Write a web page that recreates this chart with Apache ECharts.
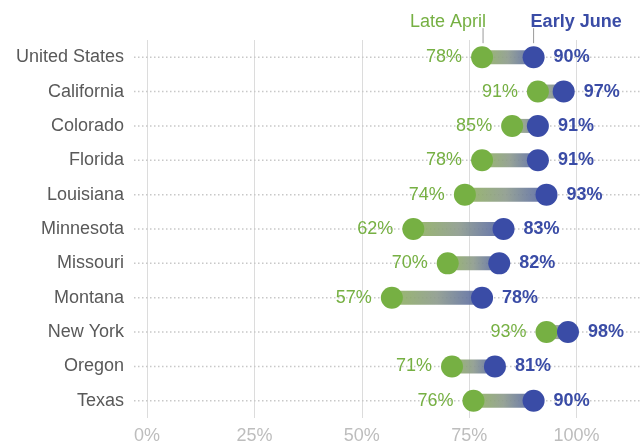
<!DOCTYPE html>
<html>
<head>
    <meta charset="utf-8">
    <title>Late April vs Early June</title>
    <script src="https://cdn.jsdelivr.net/npm/echarts@6/dist/echarts.min.js"></script>
    <style>
        html, body { margin: 0; padding: 0; background: #fff; }
        #chart1 { width: 644px; height: 446px; }
    </style>
</head>
<body>
<div id="chart1"></div>
<script type="text/javascript">
    // 数据
    var states = ['United States', 'California', 'Colorado', 'Florida', 'Louisiana', 'Minnesota',
        'Missouri', 'Montana', 'New York', 'Oregon', 'Texas'];
    var lateApril = [78, 91, 85, 78, 74, 62, 70, 57, 93, 71, 76];
    var earlyJune = [90, 97, 91, 91, 93, 83, 82, 78, 98, 81, 90];
    var xTicks = [0, 25, 50, 75, 100];

    var GREEN = '#76b043';
    var BLUE = '#3a4ca6';
    var FONT = '"Liberation Sans", Arial, sans-serif';
    var X_MAX = 115;

    var myChart1 = echarts.init(document.getElementById('chart1'));

    myChart1.setOption({
        animation: false,
        textStyle: { fontFamily: FONT },
        grid: { left: 147, right: 3, top: 40, bottom: 28 },
        xAxis: {
            type: 'value',
            min: 0,
            max: X_MAX,
            interval: 25,
            axisLine: { show: false },
            axisTick: { show: false },
            axisLabel: {
                fontSize: 18,
                color: '#bdbdbd',
                margin: 9,
                showMaxLabel: false,
                formatter: function (v) {
                    return xTicks.indexOf(v) >= 0 ? v + '%' : '';
                }
            },
            splitLine: {
                show: true,
                showMaxLine: false,
                lineStyle: { color: '#dcdcdc', width: 1 }
            }
        },
        yAxis: {
            type: 'category',
            data: states,
            inverse: true,
            axisLine: { show: false },
            axisTick: { show: false },
            axisLabel: { fontSize: 18, color: '#595959', margin: 23 }
        },
        series: [
            {
                // 每行的虚线
                type: 'custom',
                silent: true,
                data: states.map(function (s, i) { return [i]; }),
                renderItem: function (params, api) {
                    var i = api.value(0);
                    var p0 = api.coord([0, i]);
                    var p1 = api.coord([X_MAX, i]);
                    return {
                        type: 'line',
                        shape: { x1: p0[0] - 13, y1: p0[1], x2: p1[0], y2: p1[1] },
                        style: { stroke: '#c8c8c8', lineWidth: 1.5, lineDash: [1.5, 2.5] }
                    };
                }
            },
            {
                // 两点之间的渐变条 + 图例说明
                type: 'custom',
                silent: true,
                data: states.map(function (s, i) { return [i, lateApril[i], earlyJune[i]]; }),
                renderItem: function (params, api) {
                    var i = api.value(0);
                    var a = api.coord([api.value(1), i]);
                    var b = api.coord([api.value(2), i]);
                    var h = 14;
                    var children = [{
                        type: 'rect',
                        shape: { x: a[0], y: a[1] - h / 2, width: b[0] - a[0], height: h },
                        style: {
                            fill: new echarts.graphic.LinearGradient(0, 0, 1, 0, [
                                { offset: 0, color: '#8fb25c' },
                                { offset: 0.5, color: '#8c9a8c' },
                                { offset: 1, color: '#5263a6' }
                            ]),
                            opacity: 0.9
                        }
                    }];
                    if (i === 0) {
                        children.push({
                            type: 'line',
                            shape: { x1: a[0] + 1, y1: a[1] - 29, x2: a[0] + 1, y2: a[1] - 14 },
                            style: { stroke: '#9a9a9a', lineWidth: 1 }
                        }, {
                            type: 'line',
                            shape: { x1: b[0], y1: b[1] - 29, x2: b[0], y2: b[1] - 14 },
                            style: { stroke: '#9a9a9a', lineWidth: 1 }
                        }, {
                            type: 'text',
                            style: {
                                text: 'Late April', x: a[0] + 4, y: a[1] - 35,
                                align: 'right', verticalAlign: 'middle',
                                fill: GREEN, fontSize: 18, fontFamily: FONT
                            }
                        }, {
                            type: 'text',
                            style: {
                                text: 'Early June', x: b[0] - 3, y: b[1] - 35,
                                align: 'left', verticalAlign: 'middle',
                                fill: BLUE, fontSize: 18, fontWeight: 'bold', fontFamily: FONT
                            }
                        });
                    }
                    return { type: 'group', children: children };
                }
            },
            {
                name: 'Late April',
                type: 'scatter',
                symbolSize: 22,
                itemStyle: { color: GREEN, opacity: 1 },
                label: {
                    show: true,
                    position: 'left',
                    distance: 9,
                    fontSize: 18,
                    color: GREEN,
                    formatter: function (p) { return p.value[0] + '%'; }
                },
                data: lateApril.map(function (v, i) { return [v, i]; })
            },
            {
                name: 'Early June',
                type: 'scatter',
                symbolSize: 22,
                itemStyle: { color: BLUE, opacity: 1 },
                label: {
                    show: true,
                    position: 'right',
                    distance: 9,
                    fontSize: 18,
                    fontWeight: 'bold',
                    color: BLUE,
                    formatter: function (p) { return p.value[0] + '%'; }
                },
                data: earlyJune.map(function (v, i) { return [v, i]; })
            }
        ]
    });
</script>
</body>
</html>
